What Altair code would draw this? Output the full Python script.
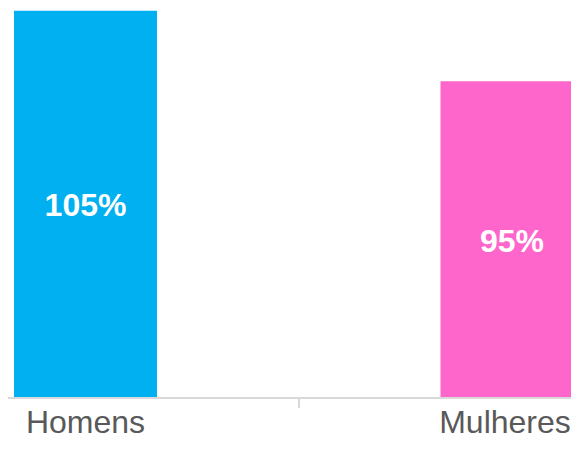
import altair as alt
import pandas as pd

categories = ["Homens", "Mulheres"]
values = [105, 95]
value_labels = ["105%", "95%"]
bar_colors = ["#00B0F0", "#FF66CC"]

AXIS_MIN = 50
AXIS_MAX = 105.4

FONT = "Liberation Sans, Arial, sans-serif"

df = pd.DataFrame({"categoria": categories, "valor": values, "rotulo": value_labels})

x_enc = alt.X(
    "categoria:N",
    sort=categories,
    scale=alt.Scale(type="band", domain=categories, range=[-135.75, 717.25],
                    paddingInner=0, paddingOuter=0),
    axis=alt.Axis(
        title=None, labelAngle=0, labelFont=FONT, labelFontSize=32,
        labelColor="#595959", domainColor="#d9d9d9", domainWidth=2,
        tickColor="#d9d9d9", tickWidth=2, tickSize=10, tickBand="extent",
        labelPadding=0, translate=0, zindex=1, grid=False,
        labelOffset={"condition": {"test": f"datum.value === '{categories[-1]}'", "value": -7}, "value": 0},
    ),
)

y_scale = alt.Scale(domain=[AXIS_MIN, AXIS_MAX], nice=False, zero=False)

bars = alt.Chart(df).mark_bar(size=143, clip=True).encode(
    x=x_enc,
    y=alt.Y("valor:Q", scale=y_scale, axis=None),
    y2=alt.datum(AXIS_MIN),
    color=alt.Color("categoria:N", scale=alt.Scale(domain=categories, range=bar_colors), legend=None),
)

text = alt.Chart(df).transform_calculate(
    mid=f"(datum.valor + {AXIS_MIN}) / 2"
).mark_text(
    font=FONT, fontSize=32, fontWeight="bold", color="white",
    align="center", baseline="middle", dy=2,
).encode(
    x=x_enc,
    y=alt.Y("mid:Q", scale=y_scale, axis=None),
    text="rotulo:N",
)

chart = alt.layer(bars, text).properties(
    width=563,
    height=390,
    padding={"left": 0, "top": 0, "right": 0, "bottom": 42},
    autosize=alt.AutoSizeParams(type="none"),
).configure_view(stroke=None)

chart.save("out.html", embed_options={"renderer": "svg", "actions": False})
